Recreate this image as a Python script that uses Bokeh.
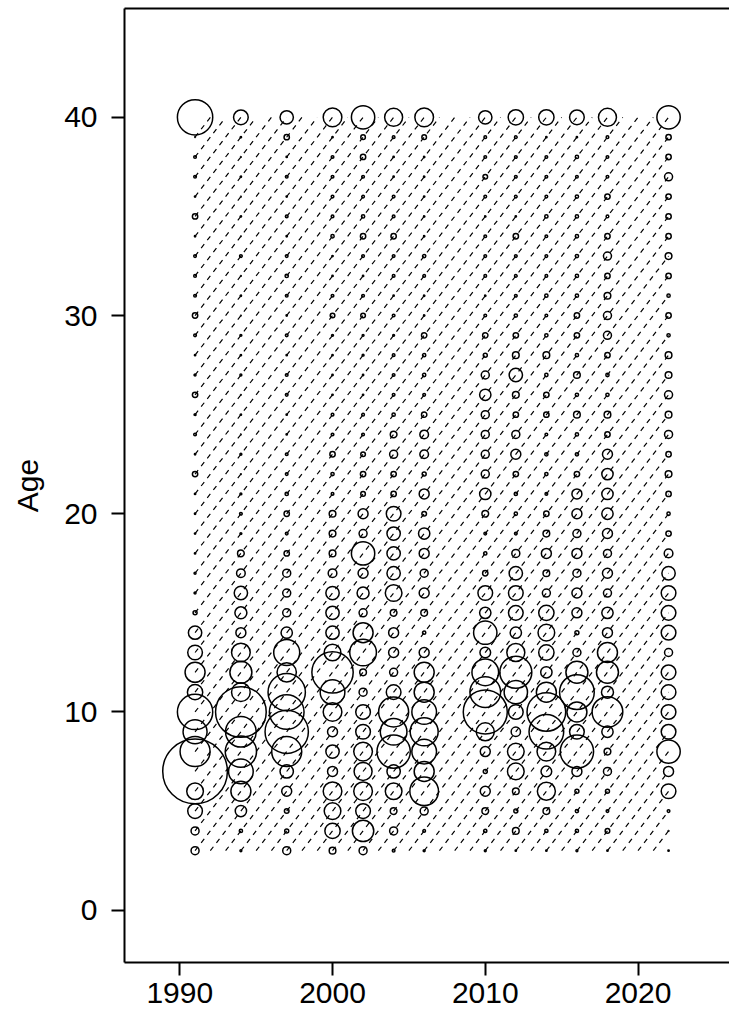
import numpy as np
from bokeh.plotting import figure
from bokeh.models import Range1d, LinearAxis, FixedTicker, ColumnDataSource
from bokeh.embed import file_html
from bokeh.resources import INLINE

# ---------------- data ----------------
years = [1991, 1994, 1997, 2000, 2002, 2004, 2006, 2010, 2012, 2014, 2016, 2018, 2022]
ages = list(range(3, 41))  # 3 .. 40 (40 = plus group)

# relative proportion at age (ages 3..40), one list per sampled year
prop_1991 = [0.36, 0.36, 1.21, 1.56, 23.52, 5.06, 3.24, 7.02, 1.32, 2.25,
             1.21, 1.00, 0.09, 0.02, 0.02, 0.01, 0.01, 0.01, 0.01, 0.16,
             0.01, 0.04, 0.02, 0.16, 0.02, 0.01, 0.04, 0.16, 0.04, 0.04,
             0.04, 0.01, 0.16, 0.01, 0.04, 0.04, 0.003, 7.02]
prop_1994 = [0.02, 0.06, 0.72, 2.25, 3.42, 5.52, 5.29, 14.44, 1.96, 2.72,
             1.96, 0.56, 0.81, 1.00, 0.42, 0.25, 0.02, 0.04, 0.02, 0.003,
             0.02, 0.003, 0.01, 0.003, 0.02, 0.01, 0.02, 0.003, 0.01, 0.003,
             0.04, 0.003, 0.01, 0.003, 0.01, 0.003, 0.01, 1.21]
prop_1997 = [0.36, 0.09, 0.12, 0.56, 1.00, 5.06, 10.56, 6.76, 7.84, 2.10,
             3.80, 0.72, 0.36, 0.36, 0.36, 0.16, 0.04, 0.16, 0.06, 0.04,
             0.04, 0.01, 0.01, 0.04, 0.04, 0.01, 0.04, 0.01, 0.04, 0.06,
             0.04, 0.01, 0.04, 0.01, 0.04, 0.01, 0.16, 1.00]
prop_2000 = [0.25, 1.32, 1.56, 1.96, 0.56, 1.00, 0.56, 1.96, 3.42, 9.61,
             1.56, 1.00, 1.00, 1.00, 0.42, 0.25, 0.25, 0.25, 0.04, 0.06,
             0.16, 0.04, 0.04, 0.01, 0.01, 0.01, 0.02, 0.12, 0.04, 0.01,
             0.01, 0.06, 0.04, 0.04, 0.04, 0.04, 0.01, 1.96]
prop_2002 = [0.36, 2.56, 1.21, 1.96, 1.82, 1.96, 1.21, 1.21, 0.36, 0.25,
             4.00, 2.25, 0.36, 0.81, 0.56, 3.06, 0.36, 0.56, 0.12, 0.16,
             0.12, 0.04, 0.04, 0.01, 0.01, 0.02, 0.02, 0.12, 0.04, 0.01,
             0.04, 0.16, 0.06, 0.04, 0.04, 0.16, 0.12, 3.06]
prop_2004 = [0.04, 0.36, 0.25, 1.56, 1.00, 6.25, 4.00, 5.06, 1.21, 0.36,
             0.56, 0.56, 0.25, 1.56, 1.00, 1.00, 1.00, 1.21, 0.16, 0.16,
             0.36, 0.25, 0.06, 0.04, 0.04, 0.04, 0.02, 0.04, 0.01, 0.04,
             0.04, 0.16, 0.04, 0.04, 0.01, 0.01, 0.04, 1.82]
prop_2006 = [0.02, 0.04, 0.36, 4.62, 2.25, 3.42, 4.41, 3.42, 2.25, 2.25,
             0.56, 0.06, 0.25, 0.56, 0.36, 0.56, 0.72, 0.12, 0.56, 0.09,
             0.42, 0.42, 0.16, 0.04, 0.06, 0.06, 0.16, 0.01, 0.01, 0.04,
             0.06, 0.01, 0.01, 0.01, 0.01, 0.01, 0.12, 1.96]
prop_2010 = [0.02, 0.06, 0.25, 0.56, 0.09, 0.56, 1.82, 10.89, 5.29, 4.00,
             0.64, 3.06, 0.72, 1.21, 0.16, 0.06, 0.04, 0.25, 0.72, 0.36,
             0.36, 0.36, 0.36, 0.72, 0.36, 0.09, 0.16, 0.04, 0.01, 0.04,
             0.04, 0.04, 0.01, 0.04, 0.12, 0.04, 0.04, 1.00]
prop_2012 = [0.01, 0.25, 0.09, 0.25, 1.56, 1.56, 0.49, 1.21, 3.06, 5.76,
             1.82, 0.72, 1.21, 1.21, 1.00, 0.36, 0.04, 0.06, 0.06, 0.16,
             0.56, 0.36, 0.16, 0.25, 1.00, 0.25, 0.16, 0.06, 0.04, 0.04,
             0.04, 0.16, 0.01, 0.04, 0.04, 0.04, 0.04, 1.32]
prop_2014 = [0.01, 0.06, 0.25, 1.82, 0.64, 1.96, 6.76, 8.41, 2.25, 0.72,
             1.32, 1.56, 1.32, 0.36, 0.25, 0.56, 0.25, 0.16, 0.04, 0.06,
             0.06, 0.04, 0.16, 0.16, 0.06, 0.25, 0.06, 0.04, 0.06, 0.04,
             0.04, 0.04, 0.06, 0.04, 0.04, 0.04, 0.01, 1.32]
prop_2016 = [0.02, 0.06, 0.06, 0.09, 0.56, 6.25, 1.21, 2.25, 6.76, 2.72,
             0.36, 0.09, 0.56, 0.56, 0.36, 0.56, 0.36, 0.56, 0.56, 0.16,
             0.06, 0.06, 0.25, 0.06, 0.25, 0.06, 0.16, 0.16, 0.06, 0.06,
             0.06, 0.06, 0.06, 0.06, 0.04, 0.06, 0.01, 1.21]
prop_2018 = [0.01, 0.12, 0.04, 0.09, 0.36, 0.25, 0.72, 5.29, 0.81, 2.72,
             2.25, 0.56, 0.72, 0.36, 0.56, 0.36, 0.56, 0.72, 0.72, 0.72,
             0.56, 0.16, 0.25, 0.06, 0.06, 0.16, 0.36, 0.36, 0.25, 0.16,
             0.36, 0.16, 0.04, 0.16, 0.04, 0.04, 0.04, 1.82]
prop_2022 = [0.01, 0.003, 0.04, 1.21, 0.56, 3.06, 1.21, 1.21, 1.21, 1.21,
             0.36, 1.21, 1.21, 1.21, 1.00, 0.42, 0.16, 0.06, 0.16, 0.25,
             0.16, 0.36, 0.25, 0.36, 0.25, 0.25, 0.06, 0.16, 0.06, 0.16,
             0.25, 0.16, 0.16, 0.16, 0.36, 0.16, 0.16, 3.06]

props = [prop_1991, prop_1994, prop_1997, prop_2000, prop_2002, prop_2004,
         prop_2006, prop_2010, prop_2012, prop_2014, prop_2016, prop_2018,
         prop_2022]

x_ticks = [1990, 2000, 2010, 2020]
y_ticks = [0, 10, 20, 30, 40]

# ---------------- styling ----------------
FONT = "Liberation Sans"
FSIZE = "30px"
SIZE_SCALE = 40.0 / 3.0   # marker diameter (px) per sqrt(proportion)

xs, ys, ss = [], [], []
for yr, col in zip(years, props):
    for a, v in zip(ages, col):
        xs.append(yr)
        ys.append(a)
        ss.append(SIZE_SCALE * np.sqrt(v))
src = ColumnDataSource(dict(x=xs, y=ys, s=ss))

# cohort (diagonal) lines, clipped to the sampled year / age window
y0, y1 = min(years), max(years)
a0, a1 = min(ages), max(ages)
lx, ly = [], []
for c in range(y0 - a1, y1 - a0 + 1):
    xa = max(y0, c + a0)
    xb = min(y1, c + a1)
    if xb > xa:
        lx.append([xa, xb])
        ly.append([xa - c, xb - c])

p = figure(width=729, height=1016,
           x_range=Range1d(1986.38, 2025.99), y_range=Range1d(-2.64, 45.49),
           output_backend="svg", toolbar_location=None,
           min_border_left=124, min_border_right=0,
           min_border_top=8, min_border_bottom=54)
p.outline_line_color = None
p.grid.visible = False
p.background_fill_color = "white"
p.border_fill_color = "white"

p.multi_line(lx, ly, line_color="black", line_width=1.2, line_dash="5 5")
p.scatter("x", "y", size="s", source=src, marker="circle",
          fill_color=None, line_color="black", line_width=1.5)

xa_ = p.xaxis[0]
xa_.ticker = FixedTicker(ticks=x_ticks)
ya_ = p.yaxis[0]
ya_.ticker = FixedTicker(ticks=y_ticks)
for ax in (xa_, ya_):
    ax.axis_line_width = 2
    ax.axis_line_color = "black"
    ax.major_tick_line_width = 2
    ax.major_tick_line_color = "black"
    ax.major_tick_out = 13
    ax.major_tick_in = 0
    ax.minor_tick_line_color = None
    ax.major_label_text_font = FONT
    ax.major_label_text_font_size = FSIZE
    ax.major_label_text_color = "black"
xa_.major_label_standoff = 7
ya_.major_label_standoff = 14
ya_.axis_label = "Age"
ya_.axis_label_text_font = FONT
ya_.axis_label_text_font_size = FSIZE
ya_.axis_label_text_font_style = "normal"
ya_.axis_label_text_color = "black"
ya_.axis_label_standoff = 17

top = LinearAxis(ticker=FixedTicker(ticks=[]), major_tick_out=0, major_tick_in=0,
                 minor_tick_out=0, minor_tick_in=0, major_label_standoff=0,
                 major_label_text_font_size="0px", axis_line_width=2,
                 axis_line_color="black", minor_tick_line_color=None,
                 major_tick_line_color=None)
p.add_layout(top, "above")

open("out.html", "w").write(file_html(p, INLINE))
